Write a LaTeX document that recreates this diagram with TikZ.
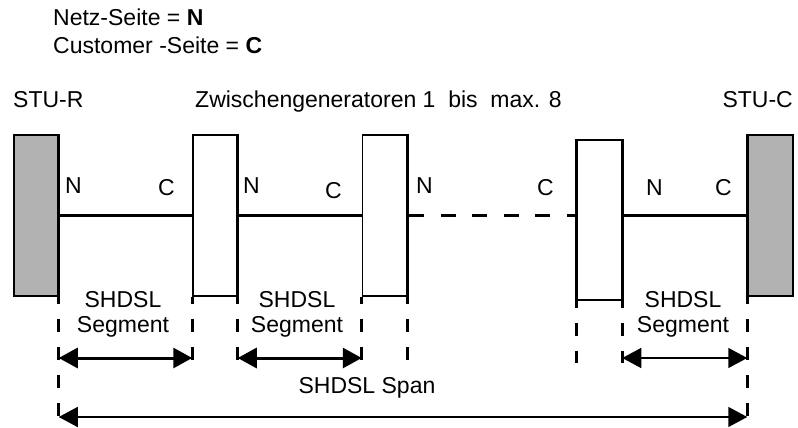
\documentclass[tikz,border=0pt]{standalone}
\usepackage{fontspec}
\setmainfont{Liberation Sans}
\usetikzlibrary{arrows.meta,positioning,calc}

\begin{document}
\begin{tikzpicture}[
                    x=1pt, y=-1pt,
                    every node/.style={font=\fontsize{23}{25}\selectfont},
                    unitbox/.style={draw, line width=1.5pt, minimum width=44pt, minimum height=161pt, inner sep=0pt},
                    stubox/.style={unitbox, fill=black!30},
                    wire/.style={line width=3pt},
                    guide/.style={line width=3pt, dash pattern=on 13pt off 15pt, dash phase=6pt},
                    twoway/.style={{Triangle[length=19pt,width=20pt]}-{Triangle[length=19pt,width=20pt]}},
                    lbl/.style={inner sep=0pt, anchor=base west}
                ]
                    \useasboundingbox (0,0) rectangle (798,428);

                    % Legende
                    \node[lbl] (legn) at (53,26) {Netz-Seite = \textbf{N}};
                    \node[lbl] (legc) at (53,54) {Customer -Seite = \textbf{C}};

                    \node[lbl] (sturlbl) at (13,107) {STU-R};
                    \node[lbl] (replbl) at (195,107) {Zwischengeneratoren 1\ \ bis\ \ max. 8};
                    \node[lbl, anchor=base east] (stuclbl) at (793,107) {STU-C};

                    % Geraete
                    \node[stubox] (stur) at (36,215.5) {};
                    \node[unitbox] (rep1) at (215,215.5) {};
                    \node[unitbox] (rep2) at (384.5,215.5) {};
                    \node[unitbox, minimum height=160pt] (rep3) at (599.5,220) {};
                    \node[stubox, minimum width=45pt] (stuc) at (770.5,215.5) {};

                    \draw[wire] (stur.north east) -- (stur.south east);
                    \draw[wire] (rep1.north east) -- (rep1.south east);
                    \draw[wire] (rep2.north east) -- (rep2.south east);
                    \draw[wire] (rep3.north west) -- (rep3.south west);
                    \draw[wire] (rep3.north east) -- (rep3.south east);
                    \draw[wire] (stuc.north west) -- (stuc.south west);

                    % Leitungen
                    \draw[wire] (stur.east) -- (rep1.west);
                    \draw[wire] (rep1.east) -- (rep2.west);
                    \draw[wire, dash pattern=on 15pt off 16.5pt, dash phase=-2pt] (rep2.east) -- (rep2.east -| rep3.west);
                    \draw[line width=2.5pt] (rep3.east |- stuc.west) -- (stuc.west);

                    \node[lbl] (n1) at (65,193) {N};
                    \node[lbl] (c1) at (158,195) {C};
                    \node[lbl] (n2) at (243,193) {N};
                    \node[lbl] (c2) at (325,198) {C};
                    \node[lbl] (n3) at (416,193) {N};
                    \node[lbl] (c3) at (537,195) {C};
                    \node[lbl] (n4) at (646,195) {N};
                    \node[lbl] (c4) at (715,195) {C};

                    % Segmente und Span
                    \coordinate (segy) at (0,358);
                    \coordinate (segend) at (0,363);
                    \coordinate (spany) at (0,417);

                    \draw[guide] (stur.south east) -- (stur.south east |- spany);
                    \draw[guide] (rep1.south west) -- (rep1.south west |- segend);
                    \draw[guide] (rep1.south east) -- (rep1.south east |- segend);
                    \draw[guide] (rep2.south west) -- (rep2.south west |- segend);
                    \draw[guide] (rep2.south east) -- (rep2.south east |- segend);
                    \draw[guide] (rep3.south west) -- (rep3.south west |- segend);
                    \draw[guide] (rep3.south east) -- (rep3.south east |- segend);
                    \draw[guide] (stuc.south west) -- (stuc.south west |- spany);

                    \node[align=center] (seg1) at (123,314) {SHDSL\\Segment};
                    \node[align=center] (seg2) at (297,314) {SHDSL\\Segment};
                    \node[align=center] (seg3) at (683,314) {SHDSL\\Segment};

                    \draw[wire, twoway] (stur.south east |- segy) -- (rep1.south west |- segy);
                    \draw[wire, twoway] (rep1.south east |- segy) -- (rep2.south west |- segy);
                    \draw[line width=1.5pt, twoway] (rep3.south east |- segy) -- (stuc.south west |- segy);

                    \node (spanlbl) at (367,388) {SHDSL Span};
                    \draw[line width=1.5pt, twoway] (stur.south east |- spany) -- (stuc.south west |- spany);
                \end{tikzpicture}
\end{document}
